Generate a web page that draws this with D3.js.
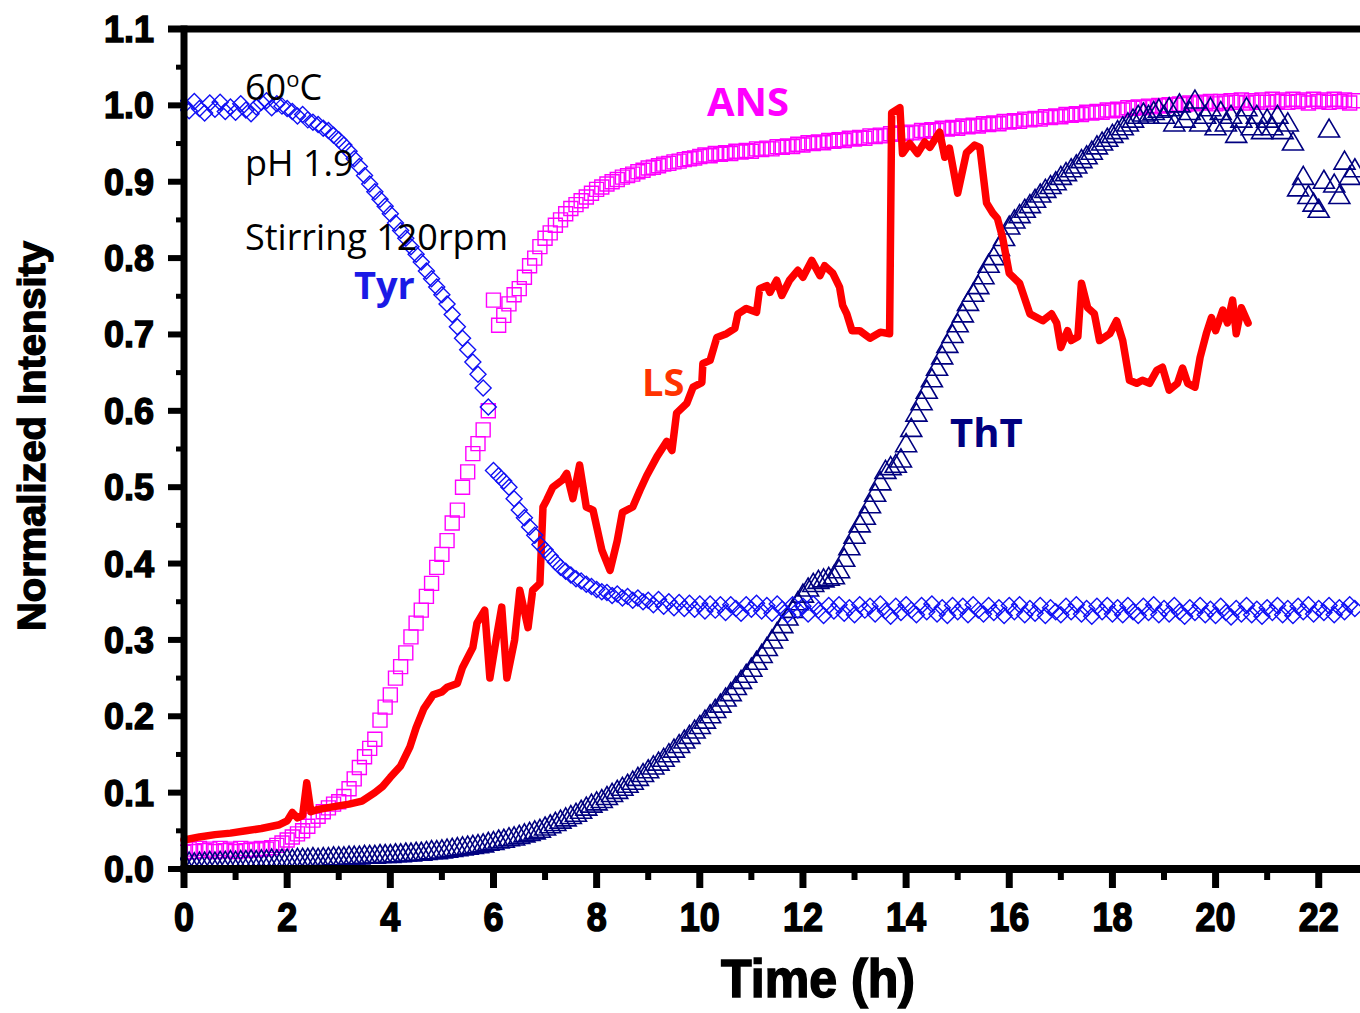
<!DOCTYPE html>
<html>
<head>
<meta charset="utf-8">
<style>
    body { margin: 0; background: #fff; }
    svg { display: block; }
    .tick-label { font-family: 'Liberation Sans', Arial, sans-serif; font-weight: bold; font-size: 36px; fill: #000; stroke: #000; stroke-width: 1.4px; }
    .axis-title { font-family: 'Liberation Sans', Arial, sans-serif; font-weight: bold; fill: #000; stroke: #000; stroke-width: 1.4px; }
    .note { font-family: 'Open Sans', sans-serif; font-size: 36px; fill: #000; }
    .series-label { font-family: 'Open Sans', sans-serif; font-weight: bold; }
</style>
</head>
<body>
<svg width="1360" height="1013"></svg>

<script src="https://cdn.jsdelivr.net/npm/d3@7"></script>
<script>
    // sampling interval of the fluorescence readings (h)
    const tStep = 0.1;

    // Tyr fluorescence, one value per 0.1 h from 0 h
    const tyr = [
        1.000, 0.993, 1.005, 0.996, 0.990, 1.003, 0.995, 1.004, 0.992, 0.998,
        0.991, 1.002, 0.994, 0.989, 0.998, 1.004, 1.006, 0.997, 1.002, 0.999,
        0.996, 0.992, 0.986, 0.988, 0.981, 0.978, 0.975, 0.970, 0.967, 0.961,
        0.955, 0.948, 0.940, 0.930, 0.920, 0.908, 0.897, 0.887, 0.877, 0.868,
        0.858, 0.846, 0.836, 0.826, 0.815, 0.805, 0.795, 0.783, 0.773, 0.762,
        0.752, 0.740, 0.726, 0.710, 0.695, 0.680, 0.664, 0.648, 0.630, 0.605,
        0.522, 0.515, 0.508, 0.500, 0.485, 0.470, 0.460, 0.448, 0.437, 0.425,
        0.418, 0.410, 0.402, 0.395, 0.390, 0.385, 0.380, 0.377, 0.373, 0.370,
        0.366, 0.363, 0.362, 0.358, 0.360, 0.355, 0.357, 0.352, 0.355, 0.350,
        0.352, 0.346, 0.353, 0.344, 0.350, 0.342, 0.349, 0.341, 0.348, 0.340,
        0.347, 0.338, 0.347, 0.339, 0.346, 0.336, 0.346, 0.341, 0.335, 0.346,
        0.340, 0.348, 0.338, 0.345, 0.335, 0.347, 0.340, 0.333, 0.346, 0.339,
        0.344, 0.334, 0.347, 0.339, 0.332, 0.345, 0.338, 0.346, 0.335, 0.342,
        0.333, 0.346, 0.339, 0.344, 0.334, 0.347, 0.338, 0.331, 0.344, 0.336,
        0.346, 0.339, 0.333, 0.345, 0.337, 0.347, 0.334, 0.342, 0.332, 0.345,
        0.337, 0.344, 0.333, 0.346, 0.339, 0.334, 0.345, 0.336, 0.342, 0.332,
        0.345, 0.337, 0.346, 0.333, 0.341, 0.335, 0.345, 0.332, 0.342, 0.337,
        0.333, 0.344, 0.337, 0.346, 0.334, 0.341, 0.331, 0.344, 0.337, 0.345,
        0.334, 0.342, 0.333, 0.345, 0.337, 0.332, 0.344, 0.336, 0.346, 0.333,
        0.341, 0.334, 0.345, 0.337, 0.331, 0.342, 0.336, 0.345, 0.333, 0.340,
        0.332, 0.344, 0.336, 0.330, 0.341, 0.334, 0.345, 0.333, 0.340, 0.331,
        0.342, 0.336, 0.345, 0.333, 0.341, 0.332, 0.344, 0.337, 0.346, 0.334,
        0.341, 0.336, 0.345, 0.333, 0.342, 0.337, 0.346, 0.341
    ];

    // ANS fluorescence
    const ans = [
        0.022, 0.026, 0.023, 0.027, 0.024, 0.026, 0.023, 0.027, 0.024, 0.026,
        0.023, 0.027, 0.024, 0.026, 0.025, 0.027, 0.026, 0.028, 0.031, 0.034,
        0.038, 0.042, 0.046, 0.050, 0.056, 0.064, 0.069, 0.075, 0.080, 0.085,
        0.088, 0.095, 0.105, 0.118, 0.133, 0.147, 0.158, 0.170, 0.195, 0.212,
        0.228, 0.250, 0.265, 0.283, 0.304, 0.322, 0.339, 0.357, 0.374, 0.395,
        0.412, 0.430, 0.453, 0.470, 0.500, 0.520, 0.544, 0.557, 0.575, 0.600,
        0.745, 0.712, 0.725, 0.740, 0.752, 0.760, 0.775, 0.790, 0.800, 0.815,
        0.826, 0.833, 0.843, 0.850, 0.858, 0.865, 0.870, 0.875, 0.880, 0.885,
        0.890, 0.893, 0.897, 0.900, 0.903, 0.906, 0.908, 0.910, 0.913, 0.915,
        0.918, 0.919, 0.921, 0.923, 0.924, 0.926, 0.927, 0.929, 0.930, 0.931,
        0.933, 0.935, 0.934, 0.937, 0.936, 0.938, 0.937, 0.940, 0.939, 0.941,
        0.940, 0.943, 0.942, 0.944, 0.943, 0.946, 0.945, 0.947, 0.946, 0.949,
        0.948, 0.951, 0.950, 0.952, 0.951, 0.954, 0.953, 0.955, 0.954, 0.957,
        0.956, 0.958, 0.957, 0.960, 0.959, 0.961, 0.960, 0.963, 0.962, 0.964,
        0.963, 0.965, 0.964, 0.967, 0.966, 0.968, 0.967, 0.970, 0.969, 0.971,
        0.970, 0.973, 0.972, 0.974, 0.973, 0.976, 0.975, 0.977, 0.976, 0.979,
        0.978, 0.980, 0.979, 0.982, 0.981, 0.983, 0.982, 0.985, 0.984, 0.986,
        0.985, 0.988, 0.987, 0.989, 0.988, 0.991, 0.990, 0.992, 0.991, 0.994,
        0.993, 0.995, 0.994, 0.997, 0.996, 0.998, 0.997, 0.999, 0.998, 1.000,
        0.999, 1.001, 1.000, 1.002, 1.001, 1.003, 1.002, 1.004, 1.003, 1.005,
        1.002, 1.005, 1.003, 1.006, 1.004, 1.007, 1.003, 1.006, 1.004, 1.007,
        1.004, 1.008, 1.005, 1.007, 1.004, 1.008, 1.005, 1.007, 1.003, 1.008,
        1.005, 1.007, 1.004, 1.008, 1.005, 1.007, 1.003, 1.006
    ];

    // ThT fluorescence
    const tht = [
        0.006, 0.007, 0.006, 0.007, 0.007, 0.008, 0.007, 0.008, 0.008, 0.009,
        0.008, 0.009, 0.009, 0.010, 0.009, 0.010, 0.010, 0.011, 0.010, 0.011,
        0.011, 0.011, 0.012, 0.012, 0.012, 0.013, 0.012, 0.013, 0.013, 0.014,
        0.014, 0.014, 0.015, 0.015, 0.015, 0.016, 0.016, 0.016, 0.017, 0.017,
        0.017, 0.018, 0.018, 0.019, 0.019, 0.020, 0.020, 0.021, 0.022, 0.022,
        0.023, 0.024, 0.025, 0.026, 0.027, 0.028, 0.029, 0.030, 0.031, 0.033,
        0.034, 0.036, 0.037, 0.039, 0.040, 0.042, 0.044, 0.046, 0.048, 0.050,
        0.053, 0.056, 0.059, 0.062, 0.065, 0.068, 0.071, 0.075, 0.079, 0.083,
        0.086, 0.089, 0.093, 0.097, 0.101, 0.105, 0.109, 0.113, 0.118, 0.123,
        0.128, 0.133, 0.138, 0.143, 0.149, 0.155, 0.161, 0.167, 0.173, 0.180,
        0.186, 0.193, 0.200, 0.207, 0.214, 0.222, 0.229, 0.237, 0.245, 0.253,
        0.261, 0.270, 0.279, 0.288, 0.298, 0.308, 0.318, 0.328, 0.338, 0.348,
        0.358, 0.366, 0.372, 0.376, 0.378, 0.380, 0.382, 0.390, 0.405, 0.420,
        0.435, 0.450, 0.460, 0.475, 0.490, 0.505, 0.520, 0.525, 0.528, 0.535,
        0.555, 0.575, 0.595, 0.610, 0.625, 0.640, 0.655, 0.670, 0.685, 0.698,
        0.712, 0.725, 0.740, 0.752, 0.762, 0.775, 0.790, 0.800, 0.812, 0.825,
        0.840, 0.848, 0.855, 0.862, 0.868, 0.875, 0.882, 0.888, 0.893, 0.898,
        0.905, 0.910, 0.915, 0.920, 0.927, 0.932, 0.938, 0.945, 0.950, 0.955,
        0.960, 0.965, 0.970, 0.975, 0.980, 0.985, 0.988, 0.985, 0.990, 0.993,
        0.985, 0.995, 0.975, 1.000, 0.980, 0.990, 1.005, 0.975, 0.985, 0.995,
        0.970, 0.990, 0.975, 0.985, 0.960, 0.980, 0.995, 0.970, 0.985, 0.965,
        0.980, 0.970, 0.985, 0.965, 0.975, 0.950, 0.890, 0.905, 0.880, 0.870,
        0.862, 0.900, 0.967, 0.895, 0.880, 0.925, 0.905, 0.915
    ];

    // light scattering trace: [time (h), intensity]
    const ls = [
        [0, 0.038], [0.3, 0.042], [0.6, 0.045], [0.9, 0.047], [1.2, 0.050], [1.5, 0.053],
        [1.85, 0.058], [2.0, 0.063], [2.1, 0.074], [2.2, 0.067], [2.3, 0.070], [2.38, 0.113],
        [2.46, 0.075], [2.6, 0.078], [2.85, 0.081], [3.2, 0.085], [3.45, 0.089], [3.7, 0.100],
        [3.85, 0.108], [4.0, 0.120], [4.2, 0.135], [4.38, 0.160], [4.5, 0.185], [4.65, 0.210],
        [4.83, 0.228], [5.0, 0.232], [5.1, 0.238], [5.3, 0.243], [5.4, 0.264], [5.6, 0.290],
        [5.68, 0.322], [5.83, 0.339], [5.93, 0.250], [6.05, 0.300], [6.16, 0.343], [6.26, 0.250],
        [6.41, 0.300], [6.51, 0.365], [6.67, 0.316], [6.76, 0.365], [6.9, 0.374], [6.96, 0.474],
        [7.03, 0.483], [7.15, 0.500], [7.33, 0.509], [7.42, 0.518], [7.54, 0.485], [7.67, 0.529],
        [7.8, 0.474], [7.93, 0.470], [8.1, 0.418], [8.26, 0.391], [8.4, 0.430], [8.5, 0.467],
        [8.7, 0.474], [8.84, 0.496], [8.97, 0.515], [9.17, 0.540], [9.36, 0.560], [9.46, 0.548],
        [9.55, 0.597], [9.75, 0.610], [9.87, 0.631], [10.04, 0.637], [10.06, 0.662], [10.2, 0.666],
        [10.33, 0.696], [10.52, 0.701], [10.68, 0.708], [10.74, 0.727], [10.9, 0.734], [11.1, 0.729],
        [11.16, 0.760], [11.3, 0.764], [11.36, 0.755], [11.49, 0.771], [11.59, 0.751], [11.74, 0.771],
        [11.9, 0.784], [12.0, 0.775], [12.17, 0.797], [12.33, 0.777], [12.42, 0.790], [12.58, 0.780],
        [12.71, 0.762], [12.77, 0.738], [12.85, 0.727], [12.95, 0.705], [13.1, 0.705], [13.3, 0.695],
        [13.5, 0.703], [13.68, 0.701], [13.72, 0.990], [13.88, 0.997], [13.93, 0.937], [14.07, 0.950],
        [14.22, 0.937], [14.36, 0.952], [14.46, 0.945], [14.65, 0.965], [14.75, 0.932], [14.84, 0.944],
        [15.0, 0.885], [15.17, 0.938], [15.33, 0.948], [15.43, 0.945], [15.56, 0.872], [15.68, 0.859],
        [15.77, 0.852], [15.87, 0.827], [16.0, 0.780], [16.2, 0.767], [16.4, 0.727], [16.65, 0.718],
        [16.82, 0.727], [16.92, 0.715], [17.0, 0.683], [17.13, 0.705], [17.2, 0.692], [17.33, 0.697],
        [17.4, 0.767], [17.52, 0.735], [17.65, 0.727], [17.75, 0.692], [17.95, 0.701], [18.08, 0.718],
        [18.2, 0.692], [18.33, 0.640], [18.47, 0.636], [18.58, 0.640], [18.72, 0.636], [18.86, 0.653],
        [18.97, 0.657], [19.1, 0.627], [19.26, 0.636], [19.36, 0.656], [19.46, 0.636], [19.6, 0.631],
        [19.7, 0.670], [19.82, 0.701], [19.92, 0.722], [20.0, 0.705], [20.14, 0.732], [20.23, 0.715],
        [20.33, 0.745], [20.4, 0.701], [20.5, 0.735], [20.63, 0.715]
    ];

    const xTicks = [0, 2, 4, 6, 8, 10, 12, 14, 16, 18, 20, 22];
    const yTicks = [0, 0.1, 0.2, 0.3, 0.4, 0.5, 0.6, 0.7, 0.8, 0.9, 1.0, 1.1];

    let svg = d3.select("svg");

    let x = d3.scaleLinear()
        .domain([0, 22.8])
        .range([184, 1360]);

    let y = d3.scaleLinear()
        .domain([0, 1.1])
        .range([869, 29]);

    const toPoints = vals => vals.map((v, i) => [i * tStep, v]);

    // marker shapes
    const diamond = "M0,-8L8,0L0,8L-8,0Z";
    const square = "M-7,-7H7V7H-7Z";
    const triangle = "M0,-11.5L10.5,6.5H-10.5Z";

    function drawMarkers(pts, shape, color, width) {
        svg.append("g")
            .selectAll("path")
            .data(pts)
            .join("path")
            .attr("d", shape)
            .attr("transform", d => `translate(${x(d[0])},${y(d[1])})`)
            .attr("fill", "none")
            .attr("stroke", color)
            .attr("stroke-width", width);
    }

    drawMarkers(toPoints(ans), square, "#ff00ff", 1.4);
    drawMarkers(toPoints(tht), triangle, "#000080", 1.6);

    let line = d3.line()
        .x(d => x(d[0]))
        .y(d => y(d[1]));

    svg.append("path")
        .datum(ls)
        .attr("d", line)
        .attr("fill", "none")
        .attr("stroke", "#ff0000")
        .attr("stroke-width", 7.5)
        .attr("stroke-linejoin", "round")
        .attr("stroke-linecap", "round");

    drawMarkers(toPoints(tyr), diamond, "#1010f5", 1.4);

    // white out anything left of the y axis
    svg.append("rect")
        .attr("x", 0).attr("y", 0)
        .attr("width", 180).attr("height", 1013)
        .attr("fill", "#fff");

    // axes
    let axes = svg.append("g").attr("stroke", "#000");

    axes.append("line")
        .attr("x1", x(0)).attr("x2", 1362)
        .attr("y1", y(0)).attr("y2", y(0))
        .attr("stroke-width", 8);
    axes.append("line")
        .attr("x1", 168).attr("x2", 1362)
        .attr("y1", y(1.1)).attr("y2", y(1.1))
        .attr("stroke-width", 7);
    axes.append("line")
        .attr("x1", x(0)).attr("x2", x(0))
        .attr("y1", y(1.1) - 3.5).attr("y2", y(0) + 4)
        .attr("stroke-width", 7);

    // y ticks (major + minor)
    yTicks.forEach(v => {
        axes.append("line")
            .attr("x1", 168).attr("x2", x(0))
            .attr("y1", y(v)).attr("y2", y(v))
            .attr("stroke-width", 6);
        if (v < 1.1) {
            axes.append("line")
                .attr("x1", 176).attr("x2", x(0))
                .attr("y1", y(v + 0.05)).attr("y2", y(v + 0.05))
                .attr("stroke-width", 5);
        }
    });

    // x ticks (major + minor)
    xTicks.forEach(t => {
        axes.append("line")
            .attr("x1", x(t)).attr("x2", x(t))
            .attr("y1", y(0)).attr("y2", 888)
            .attr("stroke-width", 7);
        if (x(t + 1) < 1360) {
            axes.append("line")
                .attr("x1", x(t + 1)).attr("x2", x(t + 1))
                .attr("y1", y(0)).attr("y2", 880)
                .attr("stroke-width", 6);
        }
    });

    svg.append("g")
        .selectAll("text")
        .data(yTicks)
        .join("text")
        .attr("class", "tick-label")
        .attr("x", 154)
        .attr("y", d => y(d))
        .attr("dy", "0.36em")
        .attr("text-anchor", "end")
        .text(d3.format(".1f"));

    svg.append("g")
        .selectAll("text")
        .data(xTicks)
        .join("text")
        .attr("class", "tick-label")
        .attr("text-anchor", "middle")
        .attr("transform", d => `translate(${x(d)},931) scale(1,1.15)`)
        .text(d => d);

    svg.append("text")
        .attr("class", "axis-title")
        .attr("font-size", 48)
        .attr("text-anchor", "middle")
        .attr("transform", "translate(818,997) scale(1,1.1)")
        .attr("textLength", 194)
        .attr("lengthAdjust", "spacingAndGlyphs")
        .text("Time (h)");

    svg.append("text")
        .attr("class", "axis-title")
        .attr("font-size", 38)
        .attr("text-anchor", "middle")
        .attr("transform", "translate(45,436) rotate(-90)")
        .attr("textLength", 390)
        .attr("lengthAdjust", "spacingAndGlyphs")
        .text("Normalized Intensity");

    // conditions
    let t60 = svg.append("text").attr("class", "note").attr("x", 245).attr("y", 100);
    t60.append("tspan").text("60");
    t60.append("tspan").attr("font-size", 22).attr("dy", -13).text("o");
    t60.append("tspan").attr("dy", 13).text("C");

    svg.append("text").attr("class", "note").attr("x", 245).attr("y", 176).text("pH 1.9");
    svg.append("text").attr("class", "note").attr("x", 245).attr("y", 250).text("Stirring 120rpm");

    // series labels
    const labels = [
        { text: "Tyr", x: 354, y: 299, size: 38, color: "#1a1ae6" },
        { text: "ANS", x: 707, y: 116, size: 40, color: "#ff00ff" },
        { text: "LS", x: 642, y: 396, size: 38, color: "#ff3300" },
        { text: "ThT", x: 950, y: 447, size: 40, color: "#000080" }
    ];

    svg.append("g")
        .selectAll("text")
        .data(labels)
        .join("text")
        .attr("class", "series-label")
        .attr("x", d => d.x)
        .attr("y", d => d.y)
        .attr("font-size", d => d.size)
        .attr("fill", d => d.color)
        .text(d => d.text);
</script>
</body>
</html>
